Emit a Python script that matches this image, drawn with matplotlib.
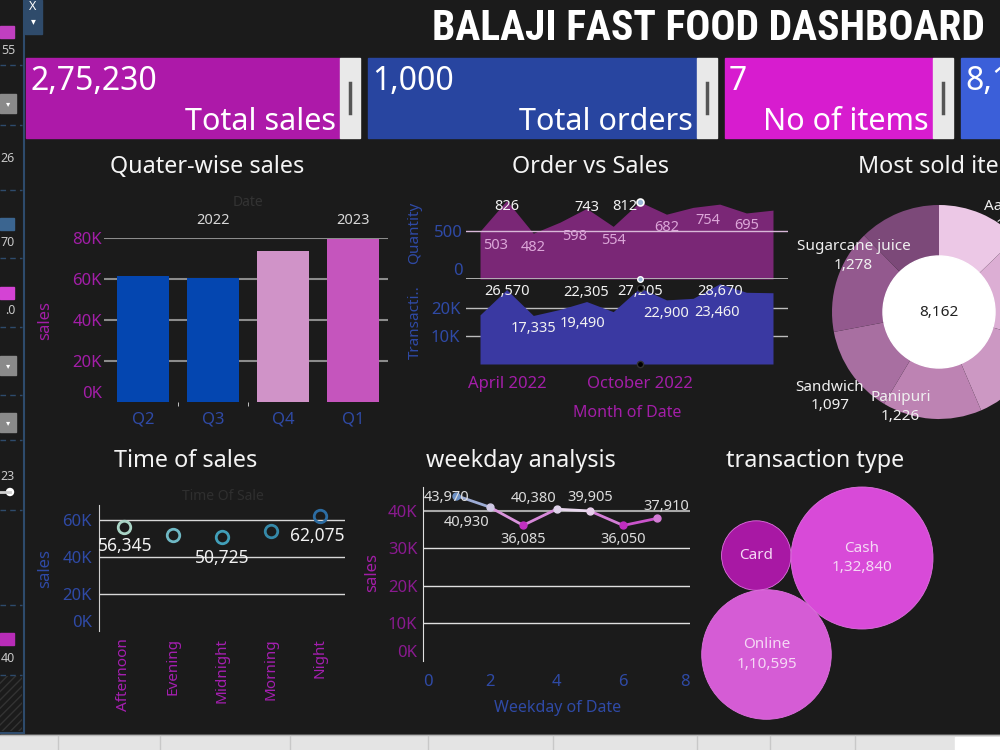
import numpy as np
import matplotlib.pyplot as plt
from matplotlib.patches import Rectangle, Circle
from matplotlib.colors import LinearSegmentedColormap, TwoSlopeNorm

plt.rcParams['font.family'] = ['Noto Sans', 'DejaVu Sans']

W, H = 1000, 750
BG = '#1b1b1b'
MAGENTA = '#a31ea8'
BLUE = '#2f4aa6'

# ---------------------------------------------------
# data
# ---------------------------------------------------
quarters = ['Q2', 'Q3', 'Q4', 'Q1']
quarter_years = ['2022', '2022', '2022', '2023']
quarter_sales = [61445, 60490, 73565, 79730]

months = ['April 2022', 'May 2022', 'June 2022', 'July 2022', 'August 2022',
          'September 2022', 'October 2022', 'November 2022', 'December 2022',
          'January 2023', 'February 2023', 'March 2023']
month_quantity = [503, 826, 482, 598, 743, 554, 812, 682, 754, 788, 695, 725]
month_amount = [17540, 26570, 17335, 19490, 22305, 18695, 27205, 22900,
                23460, 28670, 25610, 25450]

items = ['Aalopuri', 'Cold coffee', 'Frankie', 'Panipuri', 'Sandwich',
         'Sugarcane juice', 'Vadapav']
item_quantity = [1044, 1361, 1150, 1226, 1097, 1278, 1006]

time_slots = ['Afternoon', 'Evening', 'Midnight', 'Morning', 'Night']
time_sales = [56345, 52010, 50725, 54075, 62075]

weekdays = [1, 2, 3, 4, 5, 6, 7]
weekday_sales = [43970, 40930, 36085, 40380, 39905, 36050, 37910]

txn_types = ['Card', 'Cash', 'Online']
txn_amount = [31795, 132840, 110595]

total_orders = 1000


def inr(v):
    s = str(int(v))
    if len(s) <= 3:
        return s
    head, tail = s[:-3], s[-3:]
    parts = []
    while len(head) > 2:
        parts.insert(0, head[-2:])
        head = head[:-2]
    if head:
        parts.insert(0, head)
    return ','.join(parts + [tail])


def kfmt(v):
    return f"{int(v / 1000)}K"


fig = plt.figure(figsize=(10, 7.5), dpi=100, facecolor=BG)


def px_axes(x0, y0, x1, y1):
    ax = fig.add_axes([x0 / W, 1 - y1 / H, (x1 - x0) / W, (y1 - y0) / H])
    ax.set_facecolor('none')
    for s in ax.spines.values():
        s.set_visible(False)
    return ax


def px_offset(dx, dy):
    # pixel offset (y down) -> points
    return (dx * 0.72, -dy * 0.72)


# background layer in pixel coordinates
bg = fig.add_axes([0, 0, 1, 1])
bg.set_xlim(0, W)
bg.set_ylim(H, 0)
bg.axis('off')
bg.set_facecolor(BG)

# ---------------------------------------------------
# left filter panel (cropped)
# ---------------------------------------------------
edge = '#2e4b6c'
bg.plot([24, 24], [0, 733], color=edge, lw=1.5)
bg.plot([0, 24], [733, 733], color=edge, lw=1.5)
for yy in [65, 125, 190, 258, 327, 395, 440, 510, 605, 675]:
    bg.plot([0, 22], [yy, yy], color=edge, lw=1, ls=(0, (4, 3)))
for (yy, c) in [(26, '#c03fc0'), (218, '#3b6590'), (287, '#d443d4'), (633, '#b82cb8')]:
    bg.add_patch(Rectangle((0, yy), 14, 12, color=c))
for yy in [94, 356, 413]:
    bg.add_patch(Rectangle((0, yy), 16, 19, color='#8a8a8a'))
    bg.text(8, yy + 9.5, '▾', color='white', fontsize=6, ha='center', va='center')
for yy, t in [(50, '55'), (158, '26'), (243, '70'), (311, '.0'), (476, '23'), (659, '40')]:
    bg.text(15, yy, t, color='#c8c8c8', fontsize=9, ha='right', va='center')
bg.plot([0, 10], [492, 492], color='#d0d0d0', lw=2)
bg.add_patch(Circle((10, 492), 3.5, color='white'))
bg.add_patch(Rectangle((0, 676), 22, 55, facecolor='none', edgecolor='#333333',
                       hatch='////', lw=0))
bg.add_patch(Rectangle((25, 0), 17, 34, color='#2f4b6b'))
bg.text(33, 6, 'X', color='white', fontsize=9, ha='center', va='center')
bg.text(33, 22, '▾', color='white', fontsize=7, ha='center', va='center')

# bottom tab strip
bg.add_patch(Rectangle((0, 735), W, 15, color='#e4e4e4'))
bg.plot([0, W], [735, 735], color='#b8b8b8', lw=1)
for xx in [58, 160, 290, 428, 553, 697, 770, 855]:
    bg.plot([xx, xx], [736, 750], color='#c8c8c8', lw=1)
bg.add_patch(Rectangle((955, 737), 45, 13, color='white'))

# ---------------------------------------------------
# header + KPI cards
# ---------------------------------------------------
bg.text(985, 28, 'BALAJI FAST FOOD DASHBOARD', ha='right', va='center',
        fontsize=30, fontweight='bold', color='white',
        family=['Roboto Condensed', 'Roboto', 'DejaVu Sans'])

total_sales = sum(quarter_sales)
cards = [
    (26, 340, '#ad19a9', inr(total_sales), 'Total sales'),
    (368, 697, '#2845a0', inr(total_orders), 'Total orders'),
    (725, 933, '#d71ccf', str(len(items)), 'No of items'),
    (961, 1300, '#3b5fd9', inr(sum(item_quantity)), None),
]
for x0, x1, c, val, lab in cards:
    bg.add_patch(Rectangle((x0, 58), x1 - x0, 80, color=c))
    bg.text(x0 + 4, 81, val, color='white', fontsize=23, ha='left', va='center')
    if lab:
        bg.text(x1 - 4, 122, lab, color='white', fontsize=22, ha='right', va='center')
        bg.add_patch(Rectangle((x1, 58), 20, 80, color='#e9e9e9'))
        bg.plot([x1 + 10, x1 + 10], [83, 113], color='#555555', lw=2.5)

title_kw = dict(color='#f4f4f4', fontsize=16.8, va='center')
bg.text(207, 167, 'Quater-wise sales', ha='center', **title_kw)
bg.text(591, 167, 'Order vs Sales', ha='center', **title_kw)
bg.text(858, 167, 'Most sold items', ha='left', **title_kw)
bg.text(186, 461, 'Time of sales', ha='center', **title_kw)
bg.text(426, 461, 'weekday analysis', ha='left', **title_kw)
bg.text(726, 461, 'transaction type', ha='left', **title_kw)

# ---------------------------------------------------
# Quarter-wise sales
# ---------------------------------------------------
ax = px_axes(104, 238, 388, 402)
qx = np.arange(len(quarters))
ax.bar(qx, quarter_sales, width=0.74,
       color=['#0446b0', '#0446b0', '#d093c8', '#c555bd'], zorder=3)
for yv in [20000, 40000, 60000, 80000]:
    ax.axhline(yv, color='#8c8c8c', lw=1.5, zorder=1)
ax.set_xlim(-0.557, 3.5)
ax.set_ylim(0, 80000)
ax.set_xticks(qx, quarters)
ax.set_yticks([0, 20000, 40000, 60000, 80000],
              [kfmt(v) for v in [0, 20000, 40000, 60000, 80000]])
ax.set_xticks([0.5, 1.5], minor=True)
ax.tick_params(axis='x', which='major', length=0, pad=6.5, labelcolor=BLUE, labelsize=12)
ax.tick_params(axis='x', which='minor', length=3, color='#dddddd')
ax.tick_params(axis='y', length=0, pad=1.5, labelcolor=MAGENTA, labelsize=12)
ax.get_yticklabels()[0].set_va('bottom')
for yr in sorted(set(quarter_years)):
    idx = [i for i, y in enumerate(quarter_years) if y == yr]
    ax.text(np.mean(idx), 1.104, yr, transform=ax.get_xaxis_transform(),
            ha='center', va='center', color='#d8d8d8', fontsize=10.5)
bg.text(248, 202, 'Date', color='#333333', fontsize=10, ha='center', va='center')
bg.text(45, 320, 'sales', color=MAGENTA, fontsize=12, rotation=90, ha='center', va='center')

# ---------------------------------------------------
# Order vs Sales
# ---------------------------------------------------
mx = np.arange(len(months))
xl = (-0.526, 11.563)

axq = px_axes(466, 180, 788, 279)
axq.fill_between(mx, month_quantity, 0, color='#7a2776', lw=0, zorder=2)
axq.axhline(500, color='#d8b8d8', lw=1, zorder=3)
axq.axhline(0, color='#bbbbbb', lw=2, zorder=3)
axq.set_xlim(*xl)
axq.set_ylim(0, 1042)
axq.set_xticks([])
axq.set_yticks([0, 500], ['0', '500'])
axq.tick_params(axis='y', length=0, pad=2, labelcolor=BLUE, labelsize=12)
axq.get_yticklabels()[0].set_va('bottom')

qty_labels = {0: (16, 14, '#dba6d8'), 1: (0, 6, '#f2f2f2'), 2: (0, 14, '#dba6d8'),
              3: (15, 14, '#dba6d8'), 4: (0, -1, '#f2f2f2'), 5: (0, 14, '#dba6d8'),
              6: (-15, 5, '#f2f2f2'), 7: (0, 13, '#dba6d8'), 8: (15, 13, '#dba6d8'),
              10: (0, 13, '#dba6d8')}
for i, (dx, dy, c) in qty_labels.items():
    axq.annotate(inr(month_quantity[i]), (mx[i], month_quantity[i]),
                 xytext=px_offset(dx, dy), textcoords='offset points',
                 ha='center', va='center', color=c, fontsize=10.5, zorder=5)
oct_i = months.index('October 2022')
axq.plot([oct_i], [month_quantity[oct_i]], 'o', ms=5, color='#9ab8d8',
         mec='white', mew=1.2, zorder=6, clip_on=False)
axq.plot([oct_i], [0], 'o', ms=4, color='#9ab8d8', mec='white', mew=1, zorder=6,
         clip_on=False)

axa = px_axes(466, 279, 788, 364)
for yv in [10000, 20000]:
    axa.axhline(yv, color='#bdbdbd', lw=1, zorder=1)
axa.fill_between(mx, month_amount, 0, color='#3a39a2', lw=0, zorder=2)
axa.set_xlim(*xl)
axa.set_ylim(0, 30357)
axa.set_xticks([])
axa.set_yticks([10000, 20000], ['10K', '20K'])
axa.tick_params(axis='y', length=0, pad=4, labelcolor=BLUE, labelsize=12)
amt_labels = {1: (0, 2), 2: (0, 13.5), 3: (23, 14), 4: (0, -9.5), 6: (0, 4),
              7: (0, 14), 8: (24, 14), 9: (0, 8)}
for i, (dx, dy) in amt_labels.items():
    axa.annotate(inr(month_amount[i]), (mx[i], month_amount[i]),
                 xytext=px_offset(dx, dy), textcoords='offset points',
                 ha='center', va='center', color='#f2f2f2', fontsize=10.5, zorder=5)
axa.plot([oct_i], [month_amount[oct_i]], 'o', ms=4.5, color='black',
         mec='#333333', zorder=6, clip_on=False)
axa.plot([oct_i], [0], 'o', ms=4.5, color='black', mec='#333333', zorder=6,
         clip_on=False)
axa.annotate(months[0], (0, 0), xycoords=('data', 'axes fraction'),
             xytext=px_offset(-12, 20), textcoords='offset points',
             ha='left', va='center', color=MAGENTA, fontsize=12)
axa.annotate(months[oct_i], (oct_i, 0), xycoords=('data', 'axes fraction'),
             xytext=px_offset(0, 20), textcoords='offset points',
             ha='center', va='center', color=MAGENTA, fontsize=12)
bg.text(627, 413, 'Month of Date', color=MAGENTA, fontsize=11.5, fontweight='bold',
        ha='center', va='center')
bg.text(415, 233, 'Quantity', color=BLUE, fontsize=11, fontweight='bold',
        rotation=90, ha='center', va='center')
bg.text(415, 322, 'Transacti..', color=BLUE, fontsize=11, fontweight='bold',
        rotation=90, ha='center', va='center')

# ---------------------------------------------------
# Most sold items (donut)
# ---------------------------------------------------
R = 107
axd = px_axes(939 - R, 312 - R, 939 + R, 312 + R)
item_colors = ['#ecc8e6', '#dcaed4', '#cc98c3', '#bd83b3', '#a86fa1', '#93598e', '#7c4979']
axd.pie(item_quantity, colors=item_colors, startangle=90, counterclock=False,
        radius=1, wedgeprops=dict(lw=0))
axd.set_xlim(-1, 1)
axd.set_ylim(-1, 1)
axd.set_aspect('equal')
axd.axis('off')
axd.add_patch(Circle((0, 0), 56 / R, color='white', zorder=4))
axd.text(0, 0, inr(sum(item_quantity)), ha='center', va='center', color='#222222',
         fontsize=11, zorder=5)
item_label_pos = {'Sugarcane juice': (-0.80, 0.52), 'Sandwich': (-1.02, -0.79),
                  'Panipuri': (-0.36, -0.89), 'Aalopuri': (0.71, 0.90)}
for name, (lx, ly) in item_label_pos.items():
    q = item_quantity[items.index(name)]
    axd.text(lx, ly, f"{name}\n{inr(q)}", ha='center', va='center', color='#f0f0f0',
             fontsize=11, linespacing=1.35, zorder=6, clip_on=False)

# ---------------------------------------------------
# Time of sales
# ---------------------------------------------------
axt = px_axes(99, 505, 345, 631)
tx = np.arange(len(time_slots))
for yv in [20000, 40000, 60000]:
    axt.axhline(yv, color='#d8d8d8', lw=1, zorder=1)
time_colors = ['#a9d3c5', '#6fb8c4', '#419fb9', '#3589a9', '#2c6ca2']
for i in tx:
    axt.plot(tx[i], time_sales[i], 'o', ms=9, mfc='none', mec=time_colors[i],
             mew=2, zorder=3)
for i, (dx, dy) in {0: (2, 19), 2: (0, 21), 4: (-3, 20)}.items():
    axt.annotate(inr(time_sales[i]), (tx[i], time_sales[i]),
                 xytext=px_offset(dx, dy), textcoords='offset points',
                 ha='center', va='center', color='#f2f2f2', fontsize=12.5, zorder=5)
axt.set_xlim(-0.5, 4.5)
axt.set_ylim(0, 68100)
axt.spines['left'].set_visible(True)
axt.spines['left'].set_color('#cfcfcf')
axt.set_xticks(tx, time_slots, rotation=90)
axt.set_yticks([0, 20000, 40000, 60000], [kfmt(v) for v in [0, 20000, 40000, 60000]])
axt.set_yticks([0], minor=True)
axt.tick_params(axis='x', length=0, pad=5, labelcolor='#a51fb0', labelsize=11)
axt.tick_params(axis='y', which='major', length=0, pad=5, labelcolor=BLUE, labelsize=12)
axt.tick_params(axis='y', which='minor', length=4, color='#cfcfcf')
axt.get_yticklabels()[0].set_va('bottom')
bg.text(223, 496, 'Time Of Sale', color='#2f2f2f', fontsize=10, ha='center', va='center')
bg.text(45, 568, 'sales', color=BLUE, fontsize=12, rotation=90, ha='center', va='center')

# ---------------------------------------------------
# weekday analysis
# ---------------------------------------------------
axw = px_axes(423, 487, 690, 661)
for yv in [10000, 20000, 30000]:
    axw.axhline(yv, color='#e0e0e0', lw=1, zorder=1)
axw.axhline(40000, color='#a8a8a8', lw=1.5, zorder=1)
cmap = LinearSegmentedColormap.from_list('wd', ['#c02cc0', '#ead8ee', '#5b86c0'])
norm = TwoSlopeNorm(vmin=36000, vcenter=40100, vmax=44500)
for i in range(len(weekdays) - 1):
    c = cmap(norm((weekday_sales[i] + weekday_sales[i + 1]) / 2))
    axw.plot(weekdays[i:i + 2], weekday_sales[i:i + 2], color=c, lw=2, zorder=3,
             solid_capstyle='round')
for d, v in zip(weekdays, weekday_sales):
    axw.plot(d, v, 'o', ms=5, color=cmap(norm(v)), zorder=4)
wd_labels = [(-10, 2), (-23, 15), (0, 14), (-23, -11), (0, -13), (0, 14), (10, -12)]
for d, v, (dx, dy) in zip(weekdays, weekday_sales, wd_labels):
    axw.annotate(inr(v), (d, v), xytext=px_offset(dx, dy), textcoords='offset points',
                 ha='center', va='center', color='#dcdcdc', fontsize=10.5, zorder=5)
axw.set_xlim(0, 8)
axw.set_ylim(0, 46276)
axw.spines['left'].set_visible(True)
axw.spines['left'].set_color('#e0e0e0')
axw.set_xticks([0, 2, 4, 6, 8], ['0', '2', '4', '6', '8'])
axw.set_yticks([0, 10000, 20000, 30000, 40000],
               [kfmt(v) for v in [0, 10000, 20000, 30000, 40000]])
axw.set_yticks([0], minor=True)
axw.tick_params(axis='x', length=0, pad=9, labelcolor=BLUE, labelsize=12)
axw.tick_params(axis='y', which='major', length=0, pad=4, labelcolor='#8a1a90', labelsize=12)
axw.tick_params(axis='y', which='minor', length=4, color='#e0e0e0')
axw.get_yticklabels()[0].set_va('bottom')
axw.get_xticklabels()[0].set_ha('left')
axw.get_xticklabels()[-1].set_ha('right')
bg.text(558, 708, 'Weekday of Date', color=BLUE, fontsize=11.5, fontweight='bold',
        ha='center', va='center')
bg.text(372, 572, 'sales', color=MAGENTA, fontsize=12, rotation=90, ha='center', va='center')

# ---------------------------------------------------
# transaction type (packed bubbles)
# ---------------------------------------------------
axb = px_axes(690, 480, 1000, 735)
axb.set_xlim(690 - 862, 1000 - 862)
axb.set_ylim(558 - 735, 558 - 480)
axb.set_xticks([])
axb.set_yticks([])
big = max(txn_amount)
rad = {t: 71 * np.sqrt(v / big) for t, v in zip(txn_types, txn_amount)}
centers = {'Cash': np.array([0.0, 0.0])}
ang = np.deg2rad(-134.7)
centers['Online'] = (rad['Cash'] + rad['Online']) * np.array([np.cos(ang), np.sin(ang)])
# Card touches both Cash and Online, on the upper side
r1 = rad['Cash'] + rad['Card']
r2 = rad['Online'] + rad['Card']
d = np.linalg.norm(centers['Online'])
u = centers['Online'] / d
a = (r1 ** 2 - r2 ** 2 + d ** 2) / (2 * d)
h = np.sqrt(max(r1 ** 2 - a ** 2, 0))
perp = np.array([-u[1], u[0]])
cand = [a * u + h * perp, a * u - h * perp]
centers['Card'] = max(cand, key=lambda p: p[1])
txn_colors = {'Card': '#a818a4', 'Cash': '#d84ad8', 'Online': '#d55cd5'}
for t, v in zip(txn_types, txn_amount):
    cx, cy = centers[t]
    axb.add_patch(Circle((cx, cy), rad[t], facecolor=txn_colors[t],
                         edgecolor='#e070e0', lw=0.6))
    txt = t if t == 'Card' else f"{t}\n{inr(v)}"
    axb.text(cx, cy, txt, ha='center', va='center', color='#f5d8f5', fontsize=11,
             linespacing=1.45)

plt.savefig('out.png', dpi=100, facecolor=BG)
